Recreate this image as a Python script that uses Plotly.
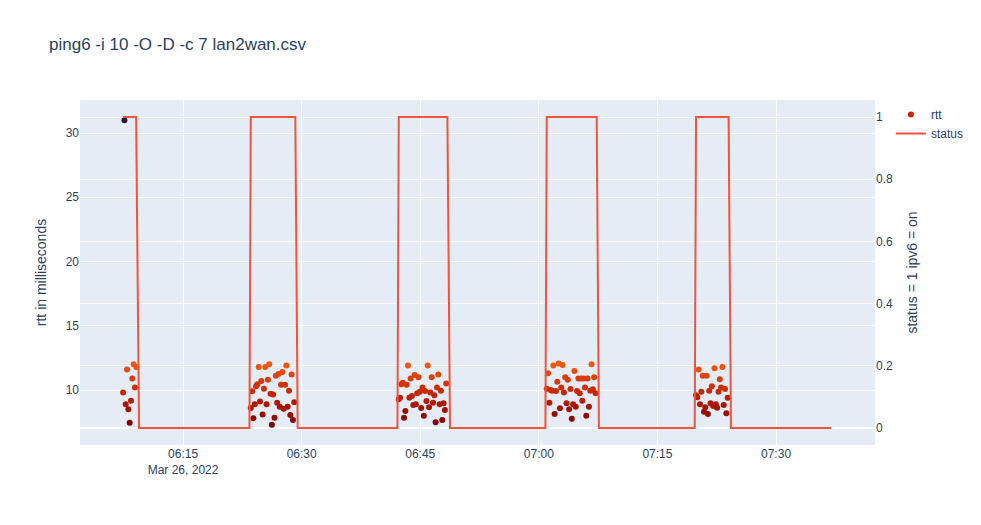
import pandas as pd
import plotly.graph_objects as go

# ping every 10 s, one list of rtt values (ms) per "ipv6 on" window
ping_step = pd.Timedelta(seconds=10)
window_starts = ["2022-03-26 06:07:25", "2022-03-26 06:23:34", "2022-03-26 06:42:17",
                 "2022-03-26 07:01:00", "2022-03-26 07:19:53"]
rtt_w1 = [9.8, 31.0, 8.9, 11.6, 8.5, 7.46, 9.17, 10.9, 12.0, 10.2, 11.8]
rtt_w2 = [8.6, 9.9, 7.8, 8.9, 10.3, 10.45, 11.8, 9.1, 10.7, 8.1, 10.1, 11.8, 8.9, 10.8,
          12.0, 9.7, 7.3, 9.65, 7.85, 11.1, 9.0, 11.25, 8.7, 10.4, 11.4, 8.55, 10.4, 11.9,
          8.7, 9.95, 8.05, 11.2, 7.67, 9.04]
rtt_w3 = [9.28, 9.4, 10.45, 10.57, 7.85, 8.37, 10.4, 11.9, 9.4, 10.9, 9.53, 8.83, 11.17,
          8.9, 9.74, 11.0, 9.87, 8.6, 10.2, 8.0, 9.92, 9.15, 11.9, 8.65, 9.8, 11.0, 9.0,
          9.6, 7.5, 10.2, 11.2, 8.9, 9.95, 7.67, 8.97, 8.45, 10.5]
rtt_w4 = [10.1, 11.3, 9.0, 10.0, 9.95, 11.9, 8.13, 9.92, 10.65, 12.07, 8.58, 10.2, 11.95,
          9.8, 11.0, 8.97, 10.8, 8.5, 10.08, 7.77, 8.9, 11.48, 8.7, 9.92, 10.9, 9.74, 10.9,
          9.17, 10.9, 10.2, 8.0, 10.9, 8.7, 9.95, 12.0, 10.05, 11.0, 9.74]
rtt_w5 = [9.6, 9.43, 11.6, 8.9, 9.87, 11.1, 8.3, 8.65, 11.1, 8.13, 9.95, 8.97, 10.3, 8.76,
          11.7, 8.9, 8.62, 9.87, 10.83, 10.2, 11.8, 8.83, 10.08, 8.19, 9.4]

status_time = ["06:07:25", "06:09:04", "06:09:26", "06:23:24", "06:23:34", "06:29:12",
               "06:29:30", "06:42:07", "06:42:17", "06:48:26", "06:48:46", "07:00:50",
               "07:01:00", "07:07:19", "07:07:36", "07:19:43", "07:19:53", "07:24:00",
               "07:24:18", "07:36:57"]
status_val = [1, 1, 0, 0, 1, 1, 0, 0, 1, 1, 0, 0, 1, 1, 0, 0, 1, 1, 0, 0]

rtt_x, rtt_y = [], []
for start, vals in zip(window_starts, [rtt_w1, rtt_w2, rtt_w3, rtt_w4, rtt_w5]):
    t0 = pd.Timestamp(start)
    rtt_x += [t0 + i * ping_step for i in range(len(vals))]
    rtt_y += vals

status_x = pd.to_datetime(["2022-03-26 " + t for t in status_time])

fig = go.Figure()
fig.add_trace(go.Scatter(x=rtt_x, y=rtt_y, mode="markers", name="rtt",
                         marker=dict(color=rtt_y, colorscale="Turbo_r", size=6)))
fig.add_trace(go.Scatter(x=status_x, y=status_val, mode="lines", name="status",
                         line=dict(color="#EF553B"), yaxis="y2"))

fig.update_layout(
    title="ping6 -i 10 -O -D -c 7 lan2wan.csv",
    font=dict(family="Arial"),
    xaxis=dict(range=["2022-03-26 06:01:58", "2022-03-26 07:42:31"]),
    yaxis=dict(title="rtt in milliseconds", range=[5.72, 32.57]),
    yaxis2=dict(title="status = 1 ipv6 = on", overlaying="y", side="right",
                range=[-0.055, 1.055]),
    width=981, height=525,
)
# drop the default page margin so the figure sits at the window's corner
fig.write_html("out.html", config={"displayModeBar": False},
               post_script="document.body.style.margin='0';")
